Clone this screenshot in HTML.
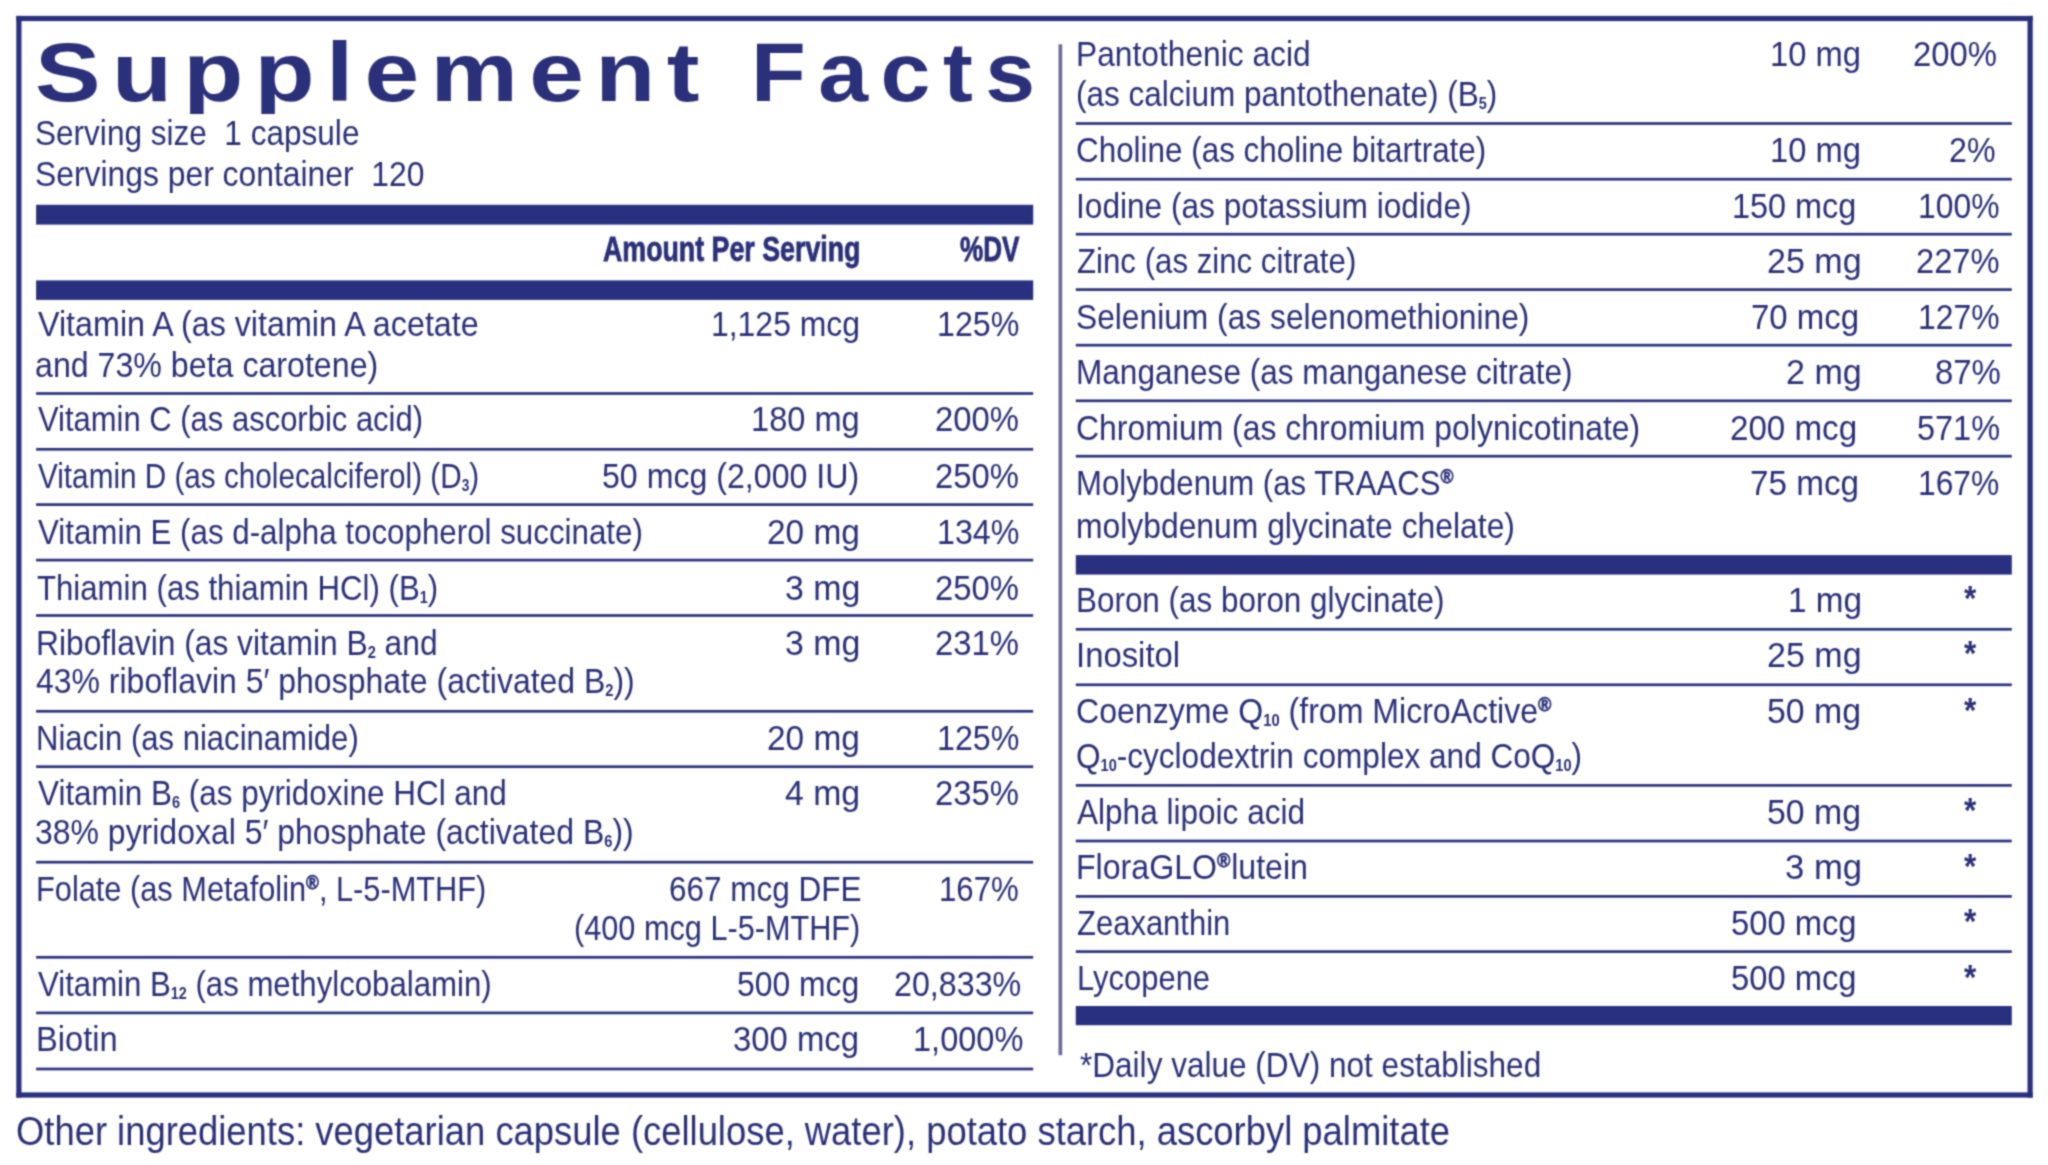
<!DOCTYPE html><html><head><meta charset="utf-8"><title>Supplement Facts</title><style>
html,body{margin:0;padding:0;background:#fff}
body{width:2048px;height:1165px;position:relative;overflow:hidden;font-family:"Liberation Sans",sans-serif;color:#2a3079}
#w{position:absolute;left:0;top:0;width:2048px;height:1165px;filter:url(#bf)}
svg.bg{position:absolute;left:0;top:0}
.t{position:absolute;white-space:nowrap;transform-origin:0 0;line-height:1}
.ttl{overflow:hidden}
.hd{-webkit-text-stroke:.8px #2a3079}
.sb{font-size:.46em;font-weight:bold;position:relative;top:.19em}
.rg{font-size:.565em;font-weight:bold;position:relative;top:-.6em;-webkit-text-stroke:.7px #2a3079}
</style></head><body><svg width="0" height="0" style="position:absolute"><filter id="bf" x="0" y="0" width="100%" height="100%" color-interpolation-filters="sRGB"><feConvolveMatrix order="5" kernelMatrix="0.00009 0.00198 0.00548 0.00198 0.00009 0.00198 0.04220 0.11707 0.04220 0.00198 0.00548 0.11707 0.32480 0.11707 0.00548 0.00198 0.04220 0.11707 0.04220 0.00198 0.00009 0.00198 0.00548 0.00198 0.00009" edgeMode="duplicate" preserveAlpha="false"/></filter></svg><div id="w"><svg class="bg" width="2048" height="1165" viewBox="0 0 2048 1165"><rect x="16.30" y="15.90" width="2016.40" height="5.20" fill="#29307f"/><rect x="16.30" y="1092.40" width="2016.40" height="5.20" fill="#29307f"/><rect x="16.30" y="15.90" width="5.20" height="1081.70" fill="#29307f"/><rect x="2027.50" y="15.90" width="5.20" height="1081.70" fill="#29307f"/><rect x="36.10" y="204.80" width="997.10" height="19.80" fill="#29307f"/><rect x="36.10" y="280.40" width="997.10" height="19.50" fill="#29307f"/><rect x="36.10" y="392.15" width="997.10" height="2.70" fill="#2b327f"/><rect x="36.10" y="447.95" width="997.10" height="2.70" fill="#2b327f"/><rect x="36.10" y="503.25" width="997.10" height="2.70" fill="#2b327f"/><rect x="36.10" y="558.75" width="997.10" height="2.70" fill="#2b327f"/><rect x="36.10" y="614.15" width="997.10" height="2.70" fill="#2b327f"/><rect x="36.10" y="709.95" width="997.10" height="2.70" fill="#2b327f"/><rect x="36.10" y="765.35" width="997.10" height="2.70" fill="#2b327f"/><rect x="36.10" y="860.85" width="997.10" height="2.70" fill="#2b327f"/><rect x="36.10" y="955.95" width="997.10" height="2.70" fill="#2b327f"/><rect x="36.10" y="1011.55" width="997.10" height="2.70" fill="#2b327f"/><rect x="36.10" y="1067.65" width="997.10" height="2.70" fill="#2b327f"/><rect x="1058.50" y="44.30" width="3.70" height="1010.90" fill="#6d6a9b"/><rect x="1075.80" y="122.15" width="936.00" height="2.70" fill="#2b327f"/><rect x="1075.80" y="177.85" width="936.00" height="2.70" fill="#2b327f"/><rect x="1075.80" y="232.85" width="936.00" height="2.70" fill="#2b327f"/><rect x="1075.80" y="288.25" width="936.00" height="2.70" fill="#2b327f"/><rect x="1075.80" y="343.85" width="936.00" height="2.70" fill="#2b327f"/><rect x="1075.80" y="399.45" width="936.00" height="2.70" fill="#2b327f"/><rect x="1075.80" y="454.85" width="936.00" height="2.70" fill="#2b327f"/><rect x="1075.80" y="627.95" width="936.00" height="2.70" fill="#2b327f"/><rect x="1075.80" y="683.45" width="936.00" height="2.70" fill="#2b327f"/><rect x="1075.80" y="784.05" width="936.00" height="2.70" fill="#2b327f"/><rect x="1075.80" y="839.65" width="936.00" height="2.70" fill="#2b327f"/><rect x="1075.80" y="895.05" width="936.00" height="2.70" fill="#2b327f"/><rect x="1075.80" y="950.25" width="936.00" height="2.70" fill="#2b327f"/><rect x="1075.80" y="555.10" width="936.00" height="19.50" fill="#29307f"/><rect x="1075.80" y="1006.00" width="936.00" height="19.20" fill="#29307f"/></svg>
<div class="t ttl" style="left:35.45px;top:31.00px;font-size:83px;font-weight:bold;letter-spacing:9.523206751054849px;transform:scaleX(1.1850);">Supplement</div>
<div class="t ttl" style="left:751.02px;top:31.00px;font-size:83px;font-weight:bold;letter-spacing:11.560185185185183px;transform:scaleX(1.0800);">Facts</div>
<div class="t" style="left:35.00px;top:115.00px;font-size:35px;transform:scaleX(0.9014);">Serving size&nbsp; 1 capsule</div>
<div class="t" style="left:34.98px;top:156.00px;font-size:35px;transform:scaleX(0.9097);">Servings per container&nbsp; 120</div>
<div class="t hd" style="left:603.03px;top:231.00px;font-size:35px;font-weight:bold;transform:scaleX(0.7652);">Amount Per Serving</div>
<div class="t hd" style="left:959.55px;top:231.00px;font-size:35px;font-weight:bold;transform:scaleX(0.7456);">%DV</div>
<div class="t" style="left:37.60px;top:306.00px;font-size:35px;transform:scaleX(0.9221);">Vitamin A (as vitamin A acetate</div>
<div class="t" style="left:710.56px;top:306.00px;font-size:35px;transform:scaleX(0.9120);">1,125 mcg</div>
<div class="t" style="left:936.84px;top:306.00px;font-size:35px;transform:scaleX(0.9200);">125%</div>
<div class="t" style="left:35.16px;top:347.00px;font-size:35px;transform:scaleX(0.9187);">and 73% beta carotene)</div>
<div class="t" style="left:37.60px;top:401.00px;font-size:35px;transform:scaleX(0.8850);">Vitamin C (as ascorbic acid)</div>
<div class="t" style="left:751.21px;top:401.00px;font-size:35px;transform:scaleX(0.9315);">180 mg</div>
<div class="t" style="left:935.33px;top:401.00px;font-size:35px;transform:scaleX(0.9372);">200%</div>
<div class="t" style="left:37.60px;top:458.00px;font-size:35px;transform:scaleX(0.8486);">Vitamin D (as cholecalciferol) (D<span class="sb">3</span>)</div>
<div class="t" style="left:602.16px;top:458.00px;font-size:35px;transform:scaleX(0.9181);">50 mcg (2,000 IU)</div>
<div class="t" style="left:935.33px;top:458.00px;font-size:35px;transform:scaleX(0.9372);">250%</div>
<div class="t" style="left:37.60px;top:514.00px;font-size:35px;transform:scaleX(0.8942);">Vitamin E (as d-alpha tocopherol succinate)</div>
<div class="t" style="left:766.69px;top:514.00px;font-size:35px;transform:scaleX(0.9548);">20 mg</div>
<div class="t" style="left:936.84px;top:514.00px;font-size:35px;transform:scaleX(0.9200);">134%</div>
<div class="t" style="left:37.41px;top:570.00px;font-size:35px;transform:scaleX(0.8904);">Thiamin (as thiamin HCl) (B<span class="sb">1</span>)</div>
<div class="t" style="left:784.76px;top:570.00px;font-size:35px;transform:scaleX(0.9685);">3 mg</div>
<div class="t" style="left:935.33px;top:570.00px;font-size:35px;transform:scaleX(0.9372);">250%</div>
<div class="t" style="left:35.78px;top:625.00px;font-size:35px;transform:scaleX(0.9069);">Riboflavin (as vitamin B<span class="sb">2</span> and</div>
<div class="t" style="left:784.76px;top:625.00px;font-size:35px;transform:scaleX(0.9685);">3 mg</div>
<div class="t" style="left:935.33px;top:625.00px;font-size:35px;transform:scaleX(0.9372);">231%</div>
<div class="t" style="left:36.09px;top:663.00px;font-size:35px;transform:scaleX(0.9133);">43% riboflavin 5′ phosphate (activated B<span class="sb">2</span>))</div>
<div class="t" style="left:35.84px;top:720.00px;font-size:35px;transform:scaleX(0.8872);">Niacin (as niacinamide)</div>
<div class="t" style="left:766.69px;top:720.00px;font-size:35px;transform:scaleX(0.9548);">20 mg</div>
<div class="t" style="left:936.84px;top:720.00px;font-size:35px;transform:scaleX(0.9200);">125%</div>
<div class="t" style="left:37.60px;top:775.00px;font-size:35px;transform:scaleX(0.8983);">Vitamin B<span class="sb">6</span> (as pyridoxine HCl and</div>
<div class="t" style="left:785.04px;top:775.00px;font-size:35px;transform:scaleX(0.9649);">4 mg</div>
<div class="t" style="left:935.33px;top:775.00px;font-size:35px;transform:scaleX(0.9372);">235%</div>
<div class="t" style="left:35.17px;top:814.00px;font-size:35px;transform:scaleX(0.9132);">38% pyridoxal 5′ phosphate (activated B<span class="sb">6</span>))</div>
<div class="t" style="left:35.86px;top:871.00px;font-size:35px;transform:scaleX(0.8787);">Folate (as Metafolin<span class="rg">®</span>, L-5-MTHF)</div>
<div class="t" style="left:668.50px;top:871.00px;font-size:35px;transform:scaleX(0.8995);">667 mcg DFE</div>
<div class="t" style="left:939.32px;top:871.00px;font-size:35px;transform:scaleX(0.8918);">167%</div>
<div class="t" style="left:574.25px;top:910.00px;font-size:35px;transform:scaleX(0.8764);">(400 mcg L-5-MTHF)</div>
<div class="t" style="left:37.60px;top:966.00px;font-size:35px;transform:scaleX(0.8905);">Vitamin B<span class="sb">12</span> (as methylcobalamin)</div>
<div class="t" style="left:736.78px;top:966.00px;font-size:35px;transform:scaleX(0.9108);">500 mcg</div>
<div class="t" style="left:893.56px;top:966.00px;font-size:35px;transform:scaleX(0.9207);">20,833%</div>
<div class="t" style="left:35.70px;top:1021.00px;font-size:35px;transform:scaleX(0.9317);">Biotin</div>
<div class="t" style="left:733.12px;top:1021.00px;font-size:35px;transform:scaleX(0.9385);">300 mcg</div>
<div class="t" style="left:913.21px;top:1021.00px;font-size:35px;transform:scaleX(0.9298);">1,000%</div>
<div class="t" style="left:1076.08px;top:36.00px;font-size:35px;transform:scaleX(0.9067);">Pantothenic acid</div>
<div class="t" style="left:1770.20px;top:36.00px;font-size:35px;transform:scaleX(0.9348);">10 mg</div>
<div class="t" style="left:1912.62px;top:36.00px;font-size:35px;transform:scaleX(0.9395);">200%</div>
<div class="t" style="left:1075.70px;top:76.00px;font-size:35px;transform:scaleX(0.9002);">(as calcium pantothenate) (B<span class="sb">5</span>)</div>
<div class="t" style="left:1076.11px;top:132.00px;font-size:35px;transform:scaleX(0.8974);">Choline (as choline bitartrate)</div>
<div class="t" style="left:1770.20px;top:132.00px;font-size:35px;transform:scaleX(0.9348);">10 mg</div>
<div class="t" style="left:1949.16px;top:132.00px;font-size:35px;transform:scaleX(0.9191);">2%</div>
<div class="t" style="left:1076.49px;top:188.00px;font-size:35px;transform:scaleX(0.9037);">Iodine (as potassium iodide)</div>
<div class="t" style="left:1731.62px;top:188.00px;font-size:35px;transform:scaleX(0.9256);">150 mcg</div>
<div class="t" style="left:1917.57px;top:188.00px;font-size:35px;transform:scaleX(0.9106);">100%</div>
<div class="t" style="left:1076.61px;top:243.00px;font-size:35px;transform:scaleX(0.8919);">Zinc (as zinc citrate)</div>
<div class="t" style="left:1766.66px;top:243.00px;font-size:35px;transform:scaleX(0.9720);">25 mg</div>
<div class="t" style="left:1915.53px;top:243.00px;font-size:35px;transform:scaleX(0.9337);">227%</div>
<div class="t" style="left:1075.69px;top:299.00px;font-size:35px;transform:scaleX(0.9067);">Selenium (as selenomethionine)</div>
<div class="t" style="left:1751.11px;top:299.00px;font-size:35px;transform:scaleX(0.9427);">70 mcg</div>
<div class="t" style="left:1917.57px;top:299.00px;font-size:35px;transform:scaleX(0.9106);">127%</div>
<div class="t" style="left:1076.29px;top:354.00px;font-size:35px;transform:scaleX(0.9018);">Manganese (as manganese citrate)</div>
<div class="t" style="left:1786.05px;top:354.00px;font-size:35px;transform:scaleX(0.9726);">2 mg</div>
<div class="t" style="left:1934.82px;top:354.00px;font-size:35px;transform:scaleX(0.9403);">87%</div>
<div class="t" style="left:1076.08px;top:410.00px;font-size:35px;transform:scaleX(0.9121);">Chromium (as chromium polynicotinate)</div>
<div class="t" style="left:1729.51px;top:410.00px;font-size:35px;transform:scaleX(0.9469);">200 mcg</div>
<div class="t" style="left:1916.54px;top:410.00px;font-size:35px;transform:scaleX(0.9279);">571%</div>
<div class="t" style="left:1076.33px;top:465.00px;font-size:35px;transform:scaleX(0.8893);">Molybdenum (as TRAACS<span class="rg">®</span></div>
<div class="t" style="left:1750.10px;top:465.00px;font-size:35px;transform:scaleX(0.9500);">75 mcg</div>
<div class="t" style="left:1918.28px;top:465.00px;font-size:35px;transform:scaleX(0.9082);">167%</div>
<div class="t" style="left:1075.68px;top:508.00px;font-size:35px;transform:scaleX(0.9098);">molybdenum glycinate chelate)</div>
<div class="t" style="left:1076.31px;top:582.00px;font-size:35px;transform:scaleX(0.8978);">Boron (as boron glycinate)</div>
<div class="t" style="left:1787.65px;top:582.00px;font-size:35px;transform:scaleX(0.9514);">1 mg</div>
<div class="t ast" style="left:1964.10px;top:580.00px;font-size:35px;font-weight:bold;transform:scaleX(0.9000);">*</div>
<div class="t" style="left:1076.38px;top:637.00px;font-size:35px;transform:scaleX(0.9390);">Inositol</div>
<div class="t" style="left:1766.66px;top:637.00px;font-size:35px;transform:scaleX(0.9720);">25 mg</div>
<div class="t ast" style="left:1964.10px;top:635.00px;font-size:35px;font-weight:bold;transform:scaleX(0.9000);">*</div>
<div class="t" style="left:1076.07px;top:693.00px;font-size:35px;transform:scaleX(0.9166);">Coenzyme Q<span class="sb">10</span> (from MicroActive<span class="rg">®</span></div>
<div class="t" style="left:1767.27px;top:693.00px;font-size:35px;transform:scaleX(0.9656);">50 mg</div>
<div class="t ast" style="left:1964.10px;top:692.00px;font-size:35px;font-weight:bold;transform:scaleX(0.9000);">*</div>
<div class="t" style="left:1075.70px;top:738.00px;font-size:35px;transform:scaleX(0.9020);">Q<span class="sb">10</span>-cyclodextrin complex and CoQ<span class="sb">10</span>)</div>
<div class="t" style="left:1077.00px;top:794.00px;font-size:35px;transform:scaleX(0.9016);">Alpha lipoic acid</div>
<div class="t" style="left:1767.27px;top:794.00px;font-size:35px;transform:scaleX(0.9656);">50 mg</div>
<div class="t ast" style="left:1964.10px;top:792.00px;font-size:35px;font-weight:bold;transform:scaleX(0.9000);">*</div>
<div class="t" style="left:1076.25px;top:849.00px;font-size:35px;transform:scaleX(0.9178);">FloraGLO<span class="rg" style="margin-right:-.45em">®</span> lutein</div>
<div class="t" style="left:1784.72px;top:849.00px;font-size:35px;transform:scaleX(0.9904);">3 mg</div>
<div class="t ast" style="left:1964.10px;top:848.00px;font-size:35px;font-weight:bold;transform:scaleX(0.9000);">*</div>
<div class="t" style="left:1076.61px;top:905.00px;font-size:35px;transform:scaleX(0.8853);">Zeaxanthin</div>
<div class="t" style="left:1731.03px;top:905.00px;font-size:35px;transform:scaleX(0.9354);">500 mcg</div>
<div class="t ast" style="left:1964.10px;top:903.00px;font-size:35px;font-weight:bold;transform:scaleX(0.9000);">*</div>
<div class="t" style="left:1076.55px;top:960.00px;font-size:35px;transform:scaleX(0.8842);">Lycopene</div>
<div class="t" style="left:1731.03px;top:960.00px;font-size:35px;transform:scaleX(0.9354);">500 mcg</div>
<div class="t ast" style="left:1964.10px;top:959.00px;font-size:35px;font-weight:bold;transform:scaleX(0.9000);">*</div>
<div class="t" style="left:1079.70px;top:1047.00px;font-size:35px;transform:scaleX(0.9014);">*Daily value (DV) not established</div>
<div class="t" style="left:15.68px;top:1111.00px;font-size:40px;transform:scaleX(0.9097);">Other ingredients: vegetarian capsule (cellulose, water), potato starch, ascorbyl palmitate</div></div></body></html>
